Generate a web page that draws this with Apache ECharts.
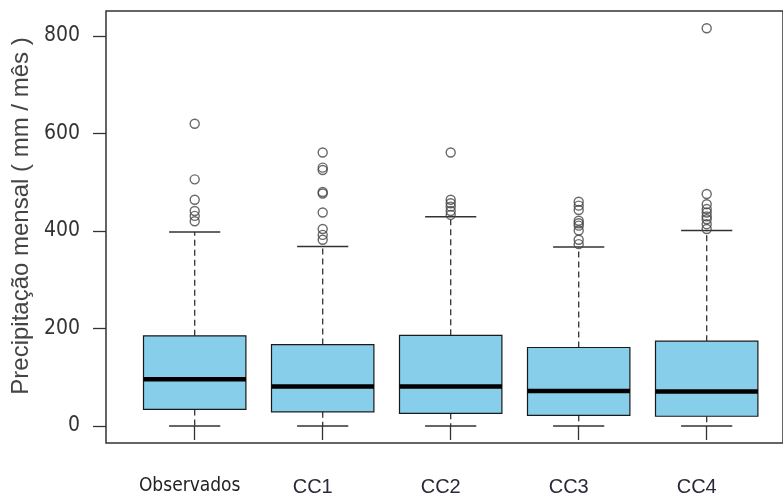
<!DOCTYPE html>
<html>
<head>
<meta charset="utf-8">
<script src="https://cdn.jsdelivr.net/npm/echarts@6/dist/echarts.min.js"></script>
<style>
  html, body { margin: 0; padding: 0; background: #fff; }
  #chart { width: 783px; height: 497px; }
</style>
</head>
<body>
<div id="chart"></div>
<script>
// Monthly precipitation: observed series and four climate-change scenarios
const categories = ['Observados', 'CC1', 'CC2', 'CC3', 'CC4'];

// five-number summaries (mm / month)
const whiskerLow  = [0, 0, 0, 0, 0];
const quartile1   = [34, 29, 26, 22, 20];
const medians     = [96, 81, 81, 72, 71];
const quartile3   = [185, 167, 186, 161, 174];
const whiskerHigh = [398, 368, 429, 367, 401];

// points beyond the whiskers
const outliersObs = [620, 506, 464, 441, 431, 420];
const outliersCC1 = [561, 530, 525, 480, 477, 438, 404, 392, 382];
const outliersCC2 = [561, 464, 457, 450, 441, 433];
const outliersCC3 = [460, 452, 443, 421, 416, 411, 401, 382, 373];
const outliersCC4 = [816, 476, 455, 445, 438, 430, 424, 414, 404];

const yTicks = { min: 0, max: 800, interval: 200 };
const yTitle = 'Precipitação mensal ( mm / mês )';

const outlierSets = [outliersObs, outliersCC1, outliersCC2, outliersCC3, outliersCC4];

const boxData = categories.map((c, i) =>
  [i, whiskerLow[i], quartile1[i], medians[i], quartile3[i], whiskerHigh[i]]);

const outlierData = [];
outlierSets.forEach((arr, i) => arr.forEach(v => outlierData.push([i, v])));

const FILL = '#87CEEB';
const INK = '#1a1a1a';
const SANS = 'Liberation Sans, Arial, sans-serif';
const CONDENSED = 'DejaVu Sans Condensed, Liberation Sans, sans-serif';

function renderBox(params, api) {
  const i = api.value(0);
  const lo  = api.coord([i, api.value(1)]);
  const q1  = api.coord([i, api.value(2)]);
  const med = api.coord([i, api.value(3)]);
  const q3  = api.coord([i, api.value(4)]);
  const hi  = api.coord([i, api.value(5)]);
  const band = api.size([1, 0])[0];
  const half = band * 0.4;
  const cap = band * 0.2;
  const x = med[0];
  const whiskerStyle = { stroke: '#333', lineWidth: 1.3, lineDash: [6, 4] };
  const capStyle = { stroke: '#333', lineWidth: 1.5 };
  return {
    type: 'group',
    children: [
      { type: 'line', shape: { x1: x, y1: q3[1], x2: x, y2: hi[1] }, style: whiskerStyle },
      { type: 'line', shape: { x1: x, y1: q1[1], x2: x, y2: lo[1] }, style: whiskerStyle },
      { type: 'line', shape: { x1: x - cap, y1: hi[1], x2: x + cap, y2: hi[1] }, style: capStyle },
      { type: 'line', shape: { x1: x - cap, y1: lo[1], x2: x + cap, y2: lo[1] }, style: capStyle },
      { type: 'rect', shape: { x: x - half, y: q3[1], width: half * 2, height: q1[1] - q3[1] },
        style: { fill: FILL, stroke: INK, lineWidth: 1.2 } },
      { type: 'line', shape: { x1: x - half, y1: med[1], x2: x + half, y2: med[1] },
        style: { stroke: '#000', lineWidth: 4.5 } }
    ]
  };
}

const chart = echarts.init(document.getElementById('chart'), null, { renderer: 'canvas' });

chart.setOption({
  animation: false,
  backgroundColor: '#ffffff',
  grid: [
    // plot frame
    { left: 106, top: 11, width: 720, height: 432, show: true,
      borderColor: '#333', borderWidth: 1.5, backgroundColor: 'transparent' },
    // data area
    { left: 130.7, top: 36, width: 640, height: 392 }
  ],
  xAxis: [
    { gridIndex: 0, type: 'value', show: false },
    {
      gridIndex: 1, type: 'category', data: categories, offset: 15,
      axisLine: { show: false },
      axisTick: { show: true, alignWithLabel: true, length: 14, lineStyle: { color: '#333', width: 1.3 } },
      axisLabel: {
        margin: 36,
        formatter: (v, idx) => idx === 0 ? '{obs|' + v + '}' : '{cc|' + v + '}',
        rich: {
          obs: { fontFamily: CONDENSED, fontSize: 19, color: '#222', padding: [0, 10, 0, 0] },
          cc: { fontFamily: SANS, fontSize: 20, color: '#2a2a3a', padding: [0, 20, 0, 0] }
        }
      },
      splitLine: { show: false }
    }
  ],
  yAxis: [
    { gridIndex: 0, type: 'value', show: false },
    {
      gridIndex: 1, type: 'value', offset: 24.7,
      min: yTicks.min, max: yTicks.max, interval: yTicks.interval,
      axisLine: { show: false },
      axisTick: { show: true, length: 13, lineStyle: { color: '#333', width: 1.3 } },
      axisLabel: { margin: 26, fontFamily: CONDENSED, fontSize: 21, color: '#333' },
      splitLine: { show: false },
      name: yTitle,
      nameLocation: 'middle',
      nameGap: 72,
      nameTextStyle: { fontFamily: SANS, fontSize: 24, color: '#444', padding: [0, 0, 0, 30] }
    }
  ],
  series: [
    {
      type: 'custom',
      xAxisIndex: 1, yAxisIndex: 1,
      renderItem: renderBox,
      encode: { x: 0, y: [1, 2, 3, 4, 5] },
      data: boxData,
      clip: false
    },
    {
      type: 'scatter',
      xAxisIndex: 1, yAxisIndex: 1,
      data: outlierData,
      symbol: 'circle',
      symbolSize: 9,
      clip: false,
      itemStyle: { color: 'rgba(255,255,255,0)', borderColor: '#444', borderWidth: 1.4 },
      z: 5
    }
  ]
});
</script>
</body>
</html>
